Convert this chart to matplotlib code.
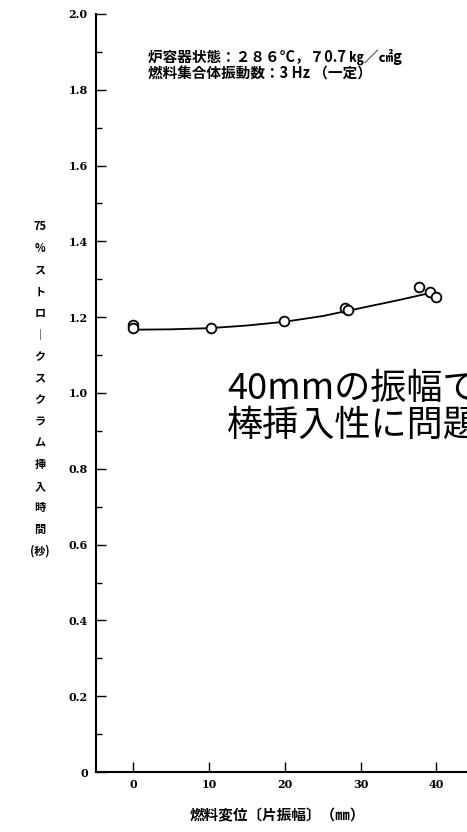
import matplotlib.pyplot as plt

plt.rcParams['font.family'] = ['Noto Sans CJK JP', 'DejaVu Sans']

# measured points: fuel displacement (mm) vs 75% stroke scram insertion time (s)
disp_mm = [0.0, 0.0, 10.3, 19.9, 28.0, 28.4, 37.7, 39.2, 40.0]
scram_s = [1.179, 1.171, 1.172, 1.191, 1.225, 1.219, 1.280, 1.266, 1.254]

# hand-drawn trend curve
curve_x = [0, 5, 10, 15, 20, 25, 30, 35, 39]
curve_y = [1.167, 1.168, 1.171, 1.178, 1.188, 1.203, 1.224, 1.245, 1.263]

x_ticks = [0, 10, 20, 30, 40]
y_major = [0, 0.2, 0.4, 0.6, 0.8, 1.0, 1.2, 1.4, 1.6, 1.8, 2.0]
y_labels = ['0', '0.2', '0.4', '0.6', '0.8', '1.0', '1.2', '1.4', '1.6', '1.8', '2.0']
y_minor = [0.1, 0.3, 0.5, 0.7, 0.9, 1.1, 1.3, 1.5, 1.7, 1.9]

ylabel_chars = ['75', '%', 'ス', 'ト', 'ロ', '｜', 'ク', 'ス', 'ク', 'ラ', 'ム',
                '挿', '入', '時', '間', '(秒)']

fig = plt.figure(figsize=(4.67, 8.32), dpi=100)
ax = fig.add_axes([0.2056, 0.0721, 0.891, 0.9111])

ax.plot(curve_x, curve_y, color='black', linewidth=1.3)
ax.plot(disp_mm, scram_s, linestyle='none', marker='o', markersize=7,
        markerfacecolor='white', markeredgecolor='black', markeredgewidth=1.3)

ax.set_xlim(-4.9, 50)
ax.set_ylim(0, 2.0)
ax.spines['top'].set_visible(False)
ax.spines['right'].set_visible(False)
ax.spines['left'].set_linewidth(1.5)
ax.spines['bottom'].set_linewidth(1.5)

ax.set_xticks(x_ticks)
ax.set_xticklabels([str(v) for v in x_ticks], family='DejaVu Serif',
                   fontweight='bold', fontsize=8)
ax.set_yticks(y_major)
ax.set_yticklabels(y_labels, family='DejaVu Serif', fontweight='bold', fontsize=8)
ax.set_yticks(y_minor, minor=True)
ax.tick_params(axis='both', which='major', direction='in', length=7, width=1)
ax.tick_params(axis='y', which='minor', direction='in', length=4, width=1)
ax.tick_params(axis='y', which='major', pad=6)
ax.tick_params(axis='x', which='major', pad=5)

# vertical y-axis label, one character per row
y0 = 1 - 227 / 832
for i, ch in enumerate(ylabel_chars):
    fig.text(40 / 467, y0 - i * 21.6 / 832, ch, ha='center', va='center',
             fontsize=8, fontweight='bold')

fig.text(277 / 467, 1 - 815 / 832, '燃料変位〔片振幅〕（㎜）', ha='center', va='center',
         fontsize=10.5, fontweight='bold')

fig.text(148 / 467, 1 - 57 / 832, '炉容器状態：２８６°C，７0.7 ㎏／㎠g',
         ha='left', va='center', fontsize=10.5, fontweight='bold')
fig.text(148 / 467, 1 - 74 / 832, '燃料集合体振動数：3 Hz （一定）',
         ha='left', va='center', fontsize=10.5, fontweight='bold')

# overlay note (runs off the right edge, as in the source image)
fig.text(227 / 467, 1 - 371 / 832, '40mmの振幅でも制御\n棒挿入性に問題なし',
         ha='left', va='top', fontsize=26, linespacing=1.05)

fig.savefig('out.png', dpi=100)
